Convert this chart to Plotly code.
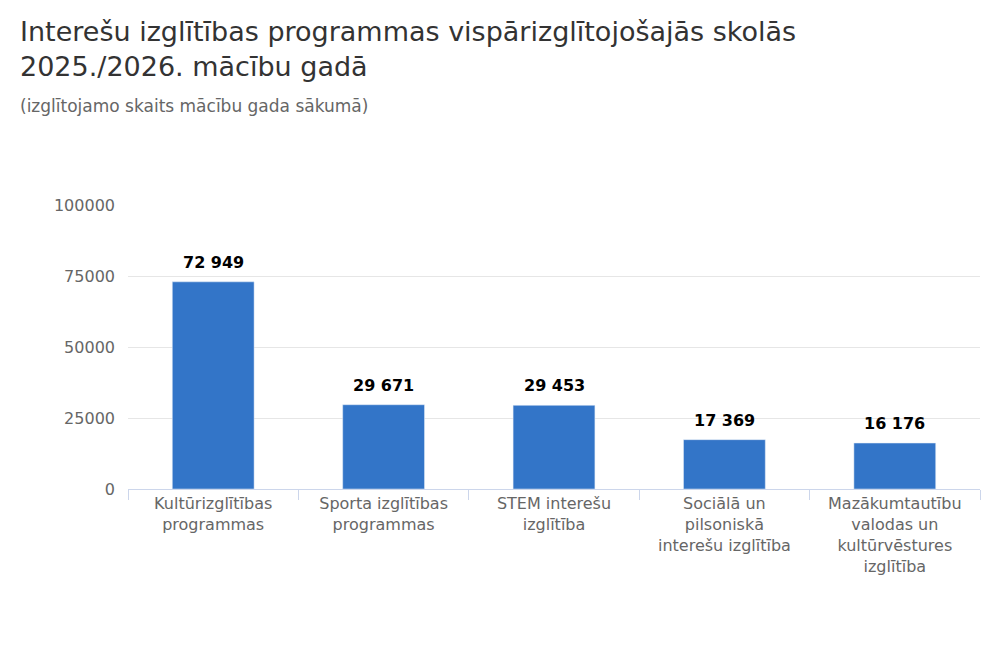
import plotly.graph_objects as go

categories = [
    "Kultūrizglītības<br>programmas",
    "Sporta izglītības<br>programmas",
    "STEM interešu<br>izglītība",
    "Sociālā un<br>pilsoniskā<br>interešu izglītība",
    "Mazākumtautību<br>valodas un<br>kultūrvēstures<br>izglītība",
]
values = [72949, 29671, 29453, 17369, 16176]
labels = [f"{v:,}".replace(",", " ") for v in values]

fig = go.Figure(go.Bar(x=categories, y=values, marker_color="#3375c8"))

PLOT_H = 284
def py(p):  # pixel row to paper y, bottom of plot at 489
    return (489 - p) / PLOT_H

ann = [dict(x=c, y=v, text=t, xref="x", yref="y", showarrow=False,
            yanchor="bottom", yshift=8,
            font=dict(size=16, color="#000", family="DejaVu Sans", weight="bold"))
       for c, v, t in zip(categories, values, labels)]
ann.append(dict(
    text="Interešu izglītības programmas vispārizglītojošajās skolās<br>2025./2026. mācību gadā",
    xref="paper", yref="paper", x=-0.129, y=py(14), xanchor="left", yanchor="top",
    align="left", showarrow=False, font=dict(size=27, color="#333")))
ann.append(dict(
    text="(izglītojamo skaits mācību gada sākumā)", xref="paper", yref="paper",
    x=-0.129, xanchor="left", y=py(94), yanchor="top", showarrow=False,
    font=dict(size=17, color="#666")))

fig.update_layout(
    width=1000, height=667,
    font=dict(family="DejaVu Sans", color="#666"),
    plot_bgcolor="white", paper_bgcolor="white",
    margin=dict(l=120, r=28, t=197, b=186),
    bargap=0.52,
    showlegend=False,
    annotations=ann,
)
fig.update_yaxes(range=[0, 100000], tickvals=[0, 25000, 50000, 75000, 100000],
                 tickformat="d", gridcolor="#e6e6e6", tickfont=dict(size=16),
                 zeroline=False, ticklabelstandoff=12)
fig.update_xaxes(showline=True, linecolor="#ccd6eb", ticks="outside",
                 tickson="boundaries", ticklen=10, tickcolor="#ccd6eb",
                 tickfont=dict(size=16, color="#666"), tickangle=0)

fig.write_html("out.html")
